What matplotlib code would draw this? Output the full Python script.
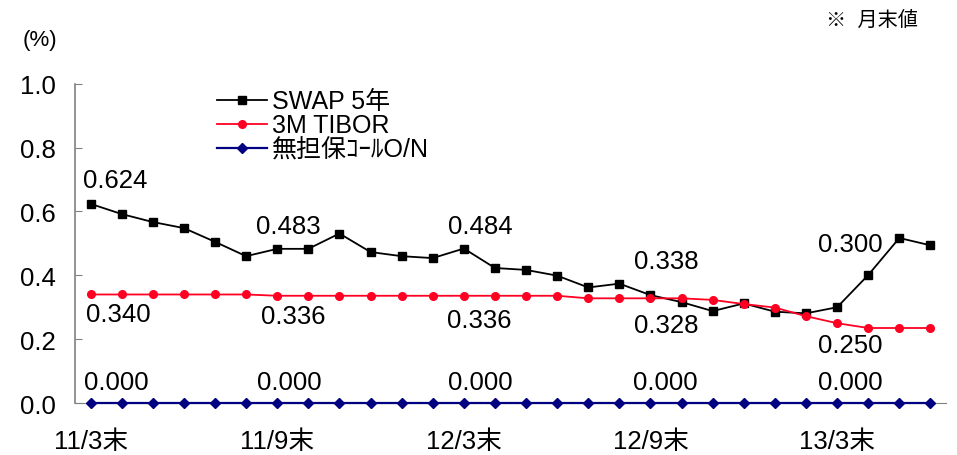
import numpy as np
import matplotlib
matplotlib.use("Agg")
import matplotlib.pyplot as plt

plt.rcParams['font.family'] = ['Liberation Sans', 'Noto Sans CJK JP', 'DejaVu Sans']

# 月末値 2011/3 - 2013/6
months = ['11/3末', '11/4', '11/5', '11/6', '11/7', '11/8', '11/9末', '11/10', '11/11', '11/12',
          '12/1', '12/2', '12/3末', '12/4', '12/5', '12/6', '12/7', '12/8', '12/9末', '12/10',
          '12/11', '12/12', '13/1', '13/2', '13/3末', '13/4', '13/5', '13/6']
swap5 = [0.624, 0.592, 0.567, 0.548, 0.505, 0.460, 0.483, 0.483, 0.531, 0.473,
         0.460, 0.454, 0.484, 0.423, 0.417, 0.399, 0.362, 0.374, 0.338, 0.316,
         0.288, 0.312, 0.286, 0.281, 0.300, 0.401, 0.517, 0.494]
tibor = [0.340, 0.340, 0.340, 0.340, 0.340, 0.340, 0.336, 0.336, 0.336, 0.336,
         0.336, 0.336, 0.336, 0.336, 0.336, 0.336, 0.328, 0.328, 0.328, 0.328,
         0.323, 0.310, 0.299, 0.272, 0.250, 0.235, 0.235, 0.235]
call_on = [0.0] * 28
tick_idx = [0, 6, 12, 18, 24]
tick_labels = ['11/3末', '11/9末', '12/3末', '12/9末', '13/3末']

x = np.arange(len(months))

fig = plt.figure(figsize=(9.57, 4.56), dpi=100)
ax = fig.add_axes([0.0784, 0.114, 0.9101, 0.7])

ax.plot(x, swap5, color='black', lw=1.3, marker='s', ms=5.5, label='SWAP 5年', zorder=3)
ax.plot(x, tibor, color='#ff0022', lw=1.3, marker='o', ms=5.5, label='3M TIBOR', zorder=3)
ax.plot(x, call_on, color='#000080', lw=1.6, marker='D', ms=5, label='無担保ｺｰﾙO/N', zorder=4,
        clip_on=False)

fs = 18.5
# data labels (offsets in pixels)
swap_off = [(25, 24), (11, 23), (16, 23), (16, 34), (13, 63)]
tibor_off = [(28, -20), (16, -20), (15, -24), (16, -27), (13, -22)]
call_off = [(26, 21), (12, 21), (16, 21), (15, 21), (13, 21)]
for k, i in enumerate(tick_idx):
    ax.annotate('%.3f' % swap5[i], (x[i], swap5[i]), xytext=swap_off[k], textcoords='offset pixels',
                ha='center', va='center', fontsize=fs)
    ax.annotate('%.3f' % tibor[i], (x[i], tibor[i]), xytext=tibor_off[k], textcoords='offset pixels',
                ha='center', va='center', fontsize=fs)
    ax.annotate('%.3f' % call_on[i], (x[i], call_on[i]), xytext=call_off[k], textcoords='offset pixels',
                ha='center', va='center', fontsize=fs)

ax.set_xlim(-0.5, len(months) - 0.5)
ax.set_ylim(0, 1.0)
ax.set_yticks(np.arange(0, 1.01, 0.2))
ax.set_yticklabels(['%.1f' % v for v in np.arange(0, 1.01, 0.2)], fontsize=fs)
ax.set_xticks(x[tick_idx])
ax.set_xticklabels(tick_labels, fontsize=fs)
ax.tick_params(axis='x', length=0, pad=19)
ax.tick_params(axis='y', direction='in', length=5, color='#808080', pad=14)

for s in ['top', 'right']:
    ax.spines[s].set_visible(False)
ax.spines['left'].set_color('#808080')
ax.spines['bottom'].set_color('#808080')
ax.spines['left'].set_linewidth(1.2)

ax.legend(loc='upper left', bbox_to_anchor=(0.152, 1.014), frameon=False, fontsize=18,
          handlelength=2.0, handletextpad=0.2, labelspacing=0.0, borderaxespad=0)

fig.text(0.042, 0.912, '(%)', fontsize=16, ha='center', va='center')
fig.text(0.959, 0.956, '※  月末値', fontsize=14.5, ha='right', va='center')

fig.savefig('out.png', dpi=100)
